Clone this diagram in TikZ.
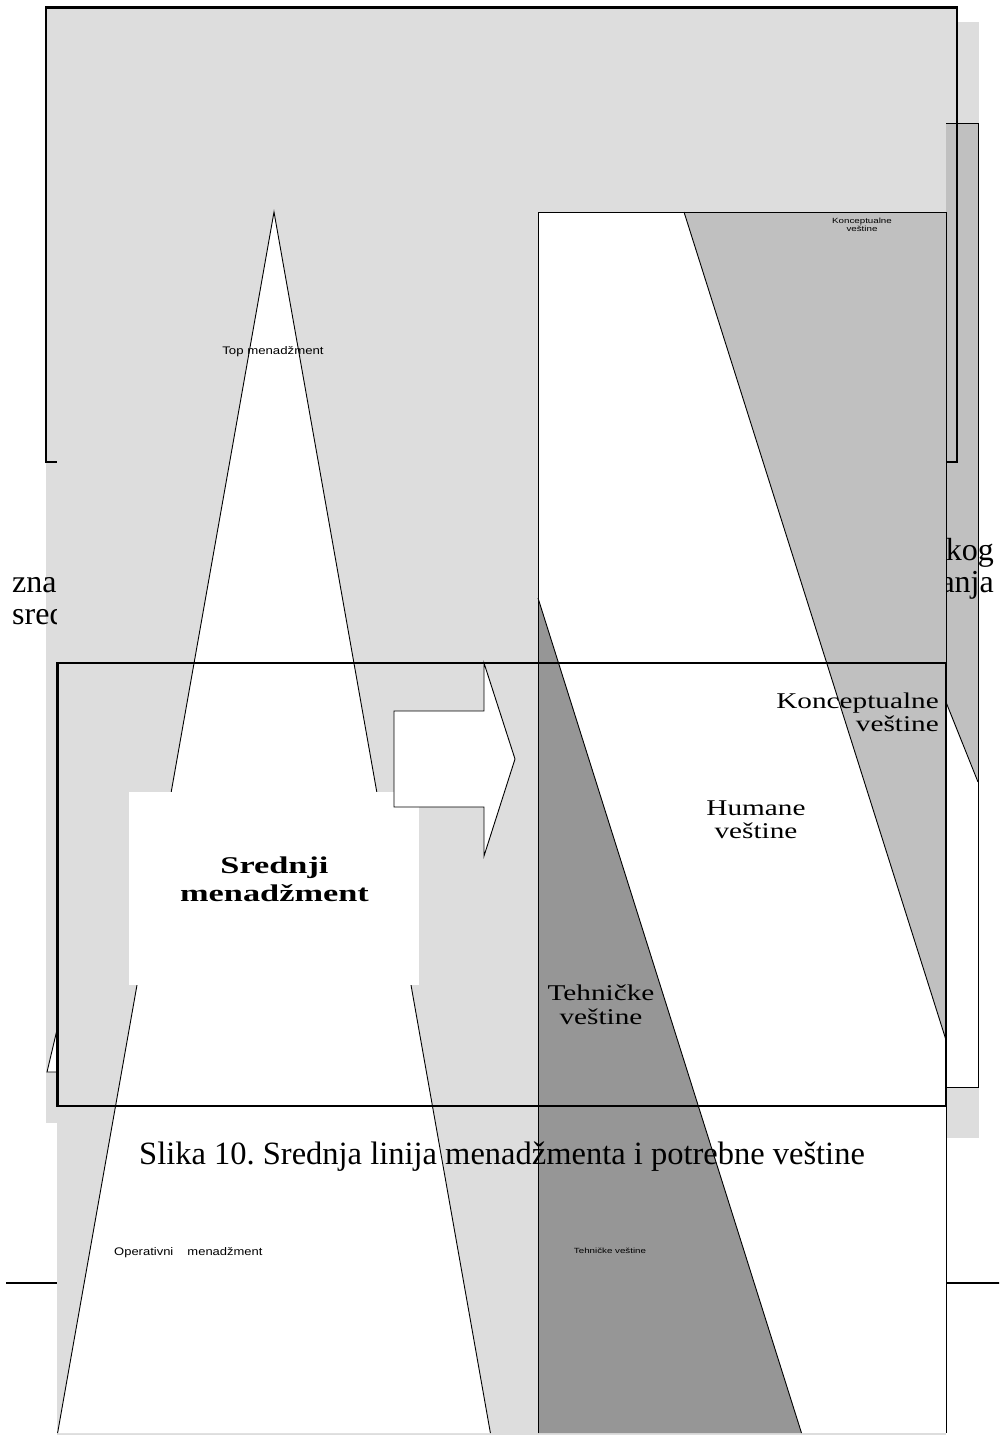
\documentclass[tikz,border=0pt]{standalone}
\usepackage{fontspec}
\setmainfont{Liberation Serif}
\newfontfamily\arialfam{Liberation Sans}
\newcommand{\xstr}[2]{\scalebox{#1}[1]{#2}}
\definecolor{paleg}{gray}{0.867}
\definecolor{midg}{gray}{0.753}
\definecolor{darkg}{gray}{0.588}
\frenchspacing
\begin{document}
\begin{tikzpicture}[x=1pt,y=-1pt,
  thinline/.style={line width=0.9pt, line join=miter},
  frameline/.style={line width=2.8pt},
  bodytxt/.style={inner sep=0pt, font=\fontsize{32}{32}\selectfont},
  tinylbl/.style={inner sep=0pt, font=\arialfam\fontsize{7.5}{8}\selectfont},
  smalllbl/.style={inner sep=0pt, font=\arialfam\fontsize{11}{12}\selectfont},
  skilllbl/.style={inner sep=0pt, font=\fontsize{22.5}{23}\selectfont},
  levellbl/.style={inner sep=0pt, font=\bfseries\fontsize{24}{28}\selectfont},
  captxt/.style={inner sep=0pt, font=\fontsize{32.5}{34}\selectfont},
]
\useasboundingbox (0,0) rectangle (999,1435);
\clip (0,0) rectangle (999,1435);

% shaded panel behind everything
\fill[paleg] (46,22) rectangle (979,1123);
\fill[paleg] (946,1123) rectangle (979,1138);
\fill[paleg] (46,7.5) rectangle (957,462);

% rear copy of the chart
\filldraw[fill=white, thinline] (272,123) -- (47,1072) -- (497,1072) -- cycle;
\fill[white] (550,123) rectangle (978,1087);
\fill[midg] (714,123) -- (978,123) -- (978,782) -- cycle;
\draw[thinline] (714,123) -- (978,782);
\fill[darkg] (550,428) -- (550,1087) -- (814,1087) -- cycle;
\draw[thinline] (550,428) -- (814,1087);
\draw[thinline] (550,123) rectangle (978,1087);

% upper frame
\draw[frameline] (46,7.5) rectangle (957,462);

% page text and footer rule
\node[bodytxt, anchor=base east] (b1) at (994,560) {kog};
\node[bodytxt, anchor=base east] (b2) at (994,592) {anja};
\node[bodytxt, anchor=base west] (b3) at (12,592) {zna};
\node[bodytxt, anchor=base west] (b4) at (12,624) {sred};
\draw[line width=2pt] (6,1283) -- (1000,1283);

% front chart: backdrop, pyramid and skill columns
\fill[paleg] (57,22) rectangle (946,1440);
\fill[white] (274,212) -- (57.6,1433) -- (490.4,1433) -- cycle;
\draw[thinline] (57.6,1433) -- (274,212) -- (490.4,1433);
\fill[white] (538,212) rectangle (946,1433);
\fill[midg] (684,212) -- (946,212) -- (946,1040) -- cycle;
\fill[darkg] (538,598) -- (538,1433) -- (801.5,1433) -- cycle;
\draw[thinline] (684,212) -- (946,1040);
\draw[thinline] (538,598) -- (801.5,1433);
\draw[thinline] (538,1433) -- (538,212) -- (946,212) -- (946,1433);

\node[smalllbl, anchor=base] (top) at (273,354) {\xstr{1.2}{Top menadžment}};
\node[tinylbl, anchor=base] (ks1) at (862,223) {\xstr{1.3}{Konceptualne}};
\node[tinylbl, anchor=base] (ks2) at (862,231) {\xstr{1.3}{veštine}};
\node[smalllbl, anchor=base west] (oper) at (114,1255.5) {\xstr{1.18}{Operativni\hspace{12pt}menadžment}};
\node[tinylbl, anchor=base] (ts) at (610,1253) {\xstr{1.3}{Tehničke veštine}};

% middle level highlight
\fill[white] (129,792) rectangle (419,985);
\filldraw[fill=white, thinline] (394,711) -- (484,711) -- (484,663) -- (515,759)
  -- (484,856) -- (484,807) -- (394,807) -- cycle;
\draw[frameline] (57.5,663) rectangle (946,1106);

\node[levellbl, anchor=base] (sr1) at (274.5,873) {\xstr{1.43}{Srednji}};
\node[levellbl, anchor=base] (sr2) at (274.5,901) {\xstr{1.43}{menadžment}};
\node[skilllbl, anchor=base east] (kl1) at (939,708) {\xstr{1.3}{Konceptualne}};
\node[skilllbl, anchor=base east] (kl2) at (939,731) {\xstr{1.3}{veštine}};
\node[skilllbl, anchor=base] (hl1) at (756,815) {\xstr{1.3}{Humane}};
\node[skilllbl, anchor=base] (hl2) at (756,838) {\xstr{1.3}{veštine}};
\node[skilllbl, anchor=base] (tl1) at (601,1000) {\xstr{1.3}{Tehničke}};
\node[skilllbl, anchor=base] (tl2) at (601,1024) {\xstr{1.3}{veštine}};

\node[captxt, anchor=base] (cap) at (502,1164) {Slika 10. Srednja linija menadžmenta i potrebne veštine};
\end{tikzpicture}
\end{document}
